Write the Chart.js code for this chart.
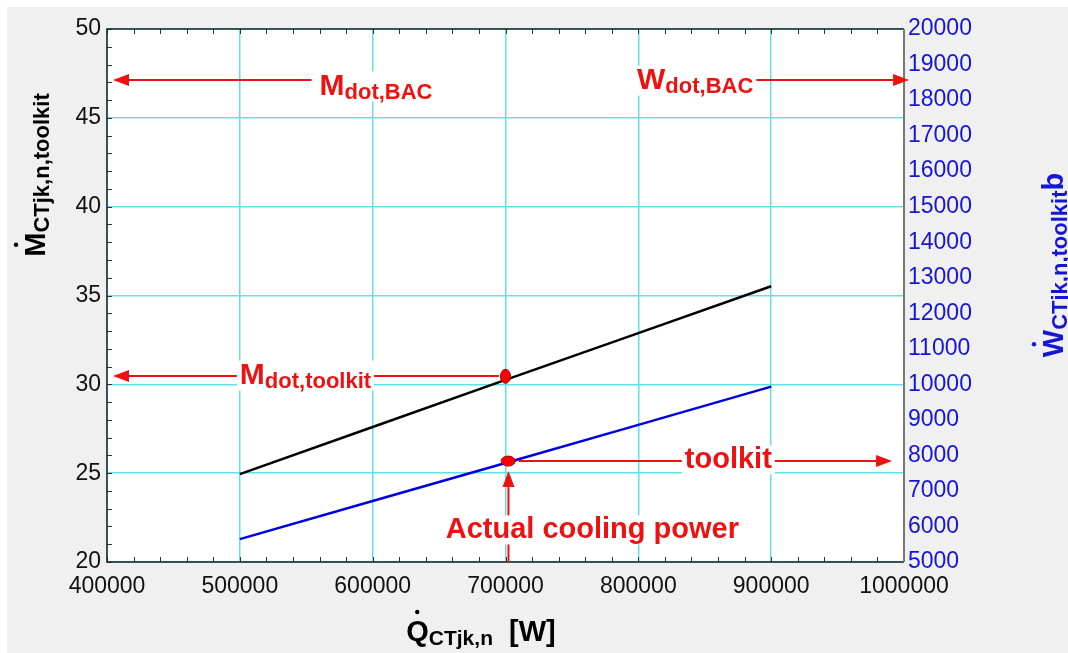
<!DOCTYPE html>
<html>
<head>
<meta charset="utf-8">
<script src="https://cdn.jsdelivr.net/npm/chart.js@4.4.0/dist/chart.umd.min.js"></script>
<style>
html,body{margin:0;padding:0;background:#fff;}
</style>
</head>
<body>
<canvas id="grafico" width="1068" height="653"></canvas>
<script>
// Datos
const caudalQ = [500000, 600000, 700000, 800000, 900000];
const mToolkit = [24.95, 27.6, 30.25, 32.88, 35.52];
const wToolkit = [5645, 6715, 7785, 8860, 9935];

// Punto de diseño (x, y en eje izquierdo)
const puntoM = [700000, 30.45];
const puntoW = [702000, 7840];

// Flechas: [x inicio, y inicio, x punta, y punta] en unidades del eje x / eje izquierdo
const flechas = [
  [554000, 47.13, 404500, 47.13],
  [885000, 47.13, 1003800, 47.13],
  [695000, 30.47, 404500, 30.47],
  [710000, 25.68, 991000, 25.68],
  [702250, 20, 702250, 25.12]
];

// Textos: [x izq, y base, principal, subindice, tamaño]
const textos = [
  [560000, 46.29, "M", "dot,BAC", 30],
  [799000, 46.62, "W", "dot,BAC", 30],
  [500000, 30.02, "M", "dot,toolkit", 30],
  [835000, 25.29, "toolkit", "", 29],
  [655000, 21.35, "Actual cooling power", "", 29]
];

const fuente = '"Liberation Sans", Arial, sans-serif';
const rojo = "#ee1111";

function textoRico(ctx, x, y, partes, fondo) {
  // partes: [texto, tamaño, desplazamiento vertical, color]
  let ancho = 0;
  partes.forEach(p => {
    ctx.font = "bold " + p[1] + "px " + fuente;
    p.w = ctx.measureText(p[0]).width;
    ancho += p.w;
  });
  if (fondo) {
    ctx.fillStyle = fondo;
    ctx.fillRect(x - 3, y - partes[0][1] * 0.78, ancho + 6, partes[0][1] * 1.0);
  }
  ctx.textAlign = "left";
  ctx.textBaseline = "alphabetic";
  let xx = x;
  partes.forEach(p => {
    ctx.font = "bold " + p[1] + "px " + fuente;
    ctx.fillStyle = p[3];
    ctx.fillText(p[0], xx, y + p[2]);
    xx += p.w;
  });
  return ancho;
}

function anchoTexto(ctx, partes) {
  let ancho = 0;
  partes.forEach(p => {
    ctx.font = "bold " + p[1] + "px " + fuente;
    ancho += ctx.measureText(p[0]).width;
  });
  return ancho;
}

function flecha(ctx, x1, y1, x2, y2) {
  let ang = Math.atan2(y2 - y1, x2 - x1);
  let largo = 16, medio = 6;
  ctx.strokeStyle = rojo;
  ctx.lineWidth = 2;
  ctx.beginPath();
  ctx.moveTo(x1, y1);
  ctx.lineTo(x2 - Math.cos(ang) * largo, y2 - Math.sin(ang) * largo);
  ctx.stroke();
  ctx.fillStyle = rojo;
  ctx.beginPath();
  ctx.moveTo(x2, y2);
  ctx.lineTo(x2 - Math.cos(ang) * largo - Math.sin(ang) * medio, y2 - Math.sin(ang) * largo + Math.cos(ang) * medio);
  ctx.lineTo(x2 - Math.cos(ang) * largo + Math.sin(ang) * medio, y2 - Math.sin(ang) * largo - Math.cos(ang) * medio);
  ctx.closePath();
  ctx.fill();
}

const fondoPlugin = {
  id: "fondo",
  beforeDraw(chart) {
    const ctx = chart.ctx, a = chart.chartArea;
    ctx.save();
    ctx.fillStyle = "#f0f0f0";
    ctx.fillRect(7, 7, chart.width - 7, chart.height - 7);
    ctx.fillStyle = "#ffffff";
    ctx.fillRect(a.left, a.top, a.right - a.left, a.bottom - a.top);
    ctx.restore();
  }
};

const anotaPlugin = {
  id: "anota",
  afterDatasetsDraw(chart) {
    const ctx = chart.ctx, a = chart.chartArea;
    const sx = chart.scales.x, sy = chart.scales.y, sy2 = chart.scales.y2;
    ctx.save();

    // marcas menores
    ctx.strokeStyle = "#333";
    ctx.lineWidth = 1;
    ctx.beginPath();
    for (let v = 400000; v <= 1000000; v += 20000) {
      let px = Math.round(sx.getPixelForValue(v)) + 0.5;
      ctx.moveTo(px, a.top); ctx.lineTo(px, a.top + 5);
      ctx.moveTo(px, a.bottom); ctx.lineTo(px, a.bottom - 5);
    }
    for (let v = 20; v <= 50; v += 1) {
      let py = Math.round(sy.getPixelForValue(v)) + 0.5;
      ctx.moveTo(a.left, py); ctx.lineTo(a.left + 5, py);
    }
    ctx.stroke();

    // borde
    ctx.lineWidth = 1.5;
    ctx.strokeStyle = "#222";
    ctx.beginPath();
    ctx.moveTo(a.right, a.top); ctx.lineTo(a.left, a.top); ctx.lineTo(a.left, a.bottom); ctx.lineTo(a.right, a.bottom);
    ctx.stroke();
    ctx.strokeStyle = "#777";
    ctx.lineWidth = 2;
    ctx.beginPath();
    ctx.moveTo(a.right, a.top); ctx.lineTo(a.right, a.bottom);
    ctx.stroke();

    // flechas
    flechas.forEach(f => {
      flecha(ctx, sx.getPixelForValue(f[0]), sy.getPixelForValue(f[1]), sx.getPixelForValue(f[2]), sy.getPixelForValue(f[3]));
    });

    // textos rojos con fondo blanco
    textos.forEach(t => {
      let partes = [[t[2], t[4], 0, rojo]];
      if (t[3]) partes.push([t[3], 22, 4, rojo]);
      textoRico(ctx, sx.getPixelForValue(t[0]), sy.getPixelForValue(t[1]), partes, "#ffffff");
    });

    // puntos de diseño
    ctx.fillStyle = "#ff0000";
    ctx.strokeStyle = "#990000";
    ctx.lineWidth = 1;
    ctx.beginPath();
    ctx.ellipse(sx.getPixelForValue(puntoM[0]), sy.getPixelForValue(puntoM[1]), 5, 7, 0, 0, Math.PI * 2);
    ctx.fill(); ctx.stroke();
    ctx.beginPath();
    ctx.ellipse(sx.getPixelForValue(puntoW[0]), sy2.getPixelForValue(puntoW[1]), 7, 5, 0, 0, Math.PI * 2);
    ctx.fill(); ctx.stroke();

    // titulos de ejes
    // izquierdo
    let pIzq = [["M", 29, 0, "#000"], ["CTjk,n,toolkit", 22, 4, "#000"]];
    ctx.save();
    ctx.translate(45, 175);
    ctx.rotate(-Math.PI / 2);
    let w = anchoTexto(ctx, pIzq);
    textoRico(ctx, -w / 2, 0, pIzq, null);
    ctx.fillStyle = "#000";
    ctx.beginPath();
    ctx.arc(-w / 2 + 12, -29, 2.2, 0, Math.PI * 2);
    ctx.fill();
    ctx.restore();

    // derecho
    let pDer = [["W", 29, 0, "#1515d8"], ["CTjk,n,toolkit", 22, 4, "#1515d8"], ["b", 29, 0, "#1515d8"]];
    ctx.save();
    ctx.translate(1063, 265);
    ctx.rotate(-Math.PI / 2);
    w = anchoTexto(ctx, pDer);
    textoRico(ctx, -w / 2, 0, pDer, null);
    ctx.fillStyle = "#1515d8";
    ctx.beginPath();
    ctx.arc(-w / 2 + 13, -29, 2.2, 0, Math.PI * 2);
    ctx.fill();
    ctx.restore();

    // inferior
    let pInf = [["Q", 29, 0, "#000"], ["CTjk,n", 21, 4, "#000"], ["  [W]", 29, 0, "#000"]];
    w = anchoTexto(ctx, pInf);
    textoRico(ctx, 481 - w / 2, 641, pInf, null);
    ctx.fillStyle = "#000";
    ctx.beginPath();
    ctx.arc(481 - w / 2 + 11, 612, 2.2, 0, Math.PI * 2);
    ctx.fill();

    ctx.restore();
  }
};

const ticksFont = {family: fuente, size: 23};

new Chart(document.getElementById("grafico"), {
  type: "scatter",
  data: {
    datasets: [
      {data: caudalQ.map((q, i) => ({x: q, y: mToolkit[i]})), yAxisID: "y", showLine: true, borderColor: "#000", borderWidth: 2.5, pointRadius: 0},
      {data: caudalQ.map((q, i) => ({x: q, y: wToolkit[i]})), yAxisID: "y2", showLine: true, borderColor: "#0000dd", borderWidth: 2.5, pointRadius: 0}
    ]
  },
  options: {
    responsive: false,
    animation: false,
    devicePixelRatio: 1,
    layout: {padding: {top: 29, left: 0, right: 0, bottom: 0}},
    plugins: {legend: {display: false}, tooltip: {enabled: false}},
    scales: {
      x: {
        type: "linear", min: 400000, max: 1000000,
        ticks: {stepSize: 100000, callback: v => String(v), font: ticksFont, color: "#111", padding: 11, maxRotation: 0, autoSkip: false},
        grid: {color: "#5ee3e8", lineWidth: 1.5, drawTicks: false},
        border: {display: false},
        afterFit(s) { s.height = 91; }
      },
      y: {
        position: "left", min: 20, max: 50,
        ticks: {stepSize: 5, callback: v => String(v), font: ticksFont, color: "#111", padding: 6},
        grid: {color: "#5ee3e8", lineWidth: 1.5, drawTicks: false},
        border: {display: false},
        afterFit(s) { s.width = 107; }
      },
      y2: {
        position: "right", min: 5000, max: 20000,
        ticks: {stepSize: 1000, callback: v => String(v), font: ticksFont, color: "#1515d8", padding: 4},
        grid: {display: false, drawTicks: false},
        border: {display: false},
        afterFit(s) { s.width = 164; }
      }
    }
  },
  plugins: [fondoPlugin, anotaPlugin]
});
</script>
</body>
</html>
